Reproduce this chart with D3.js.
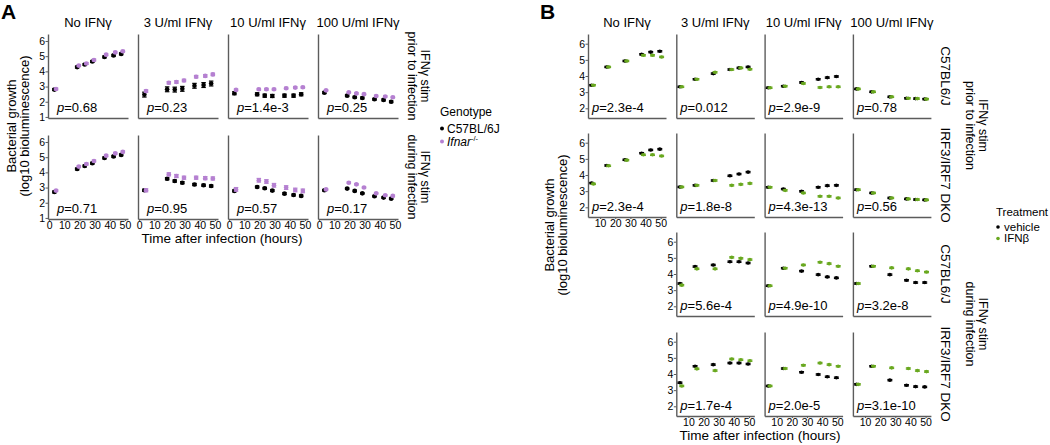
<!DOCTYPE html>
<html>
<head>
<meta charset="utf-8">
<script src="https://cdn.jsdelivr.net/npm/d3@7/dist/d3.min.js"></script>
<style>
  body { margin: 0; background: #fff; }
  svg text { font-family: "Liberation Sans", Arial, sans-serif; fill: #000; }
</style>
</head>
<body>
<svg id="chart" width="1050" height="445"></svg>
<script>
// ---------- data ----------
const conditions = ["No IFNγ", "3 U/ml IFNγ", "10 U/ml IFNγ", "100 U/ml IFNγ"];

// Panel A: genotype comparison, 7 timepoints
const timesA = [4, 19, 24, 29, 37, 43, 48];
const ticksAx = [0, 10, 20, 30, 40, 50];
const ticksAy = [1, 2, 3, 4, 5, 6];
const stimRows = [["IFNγ stim", "prior to infection"], ["IFNγ stim", "during infection"]];

// [condition][timepoint]
const aB6Prior = [
  [2.80, 4.28, 4.45, 4.65, 4.95, 5.05, 5.15],
  [2.47, 2.82, 2.80, 2.85, 3.05, 3.10, 3.20],
  [2.56, 2.49, 2.40, 2.38, 2.40, 2.40, 2.49],
  [2.60, 2.40, 2.30, 2.25, 2.16, 2.12, 2.00]
];
const aIfnarPrior = [
  [2.84, 4.38, 4.52, 4.75, 5.10, 5.25, 5.32],
  [2.70, 3.25, 3.30, 3.40, 3.65, 3.70, 3.80],
  [2.78, 2.82, 2.82, 2.82, 2.89, 2.93, 2.95],
  [2.75, 2.62, 2.55, 2.50, 2.38, 2.35, 2.30]
];
const aB6During = [
  [2.71, 4.22, 4.42, 4.60, 4.95, 5.05, 5.15],
  [2.82, 3.58, 3.43, 3.32, 3.20, 3.15, 3.10],
  [2.78, 3.04, 2.95, 2.80, 2.60, 2.51, 2.45],
  [2.82, 2.93, 2.78, 2.62, 2.43, 2.34, 2.27]
];
const aIfnarDuring = [
  [2.80, 4.38, 4.55, 4.75, 5.10, 5.25, 5.35],
  [2.82, 3.87, 3.76, 3.65, 3.65, 3.62, 3.60],
  [2.88, 3.48, 3.40, 3.15, 3.00, 2.84, 2.78],
  [2.88, 3.32, 3.21, 3.00, 2.62, 2.49, 2.45]
];
// error bar half-widths, one per condition
const aB6PriorSd = [0.06, 0.16, 0.10, 0.06];
const aIfnarPriorSd = [0.06, 0.08, 0.06, 0.05];
const aB6DuringSd = [0.06, 0.07, 0.06, 0.05];
const aIfnarDuringSd = [0.06, 0.10, 0.12, 0.05];
const pA = [["0.68", "0.23", "1.4e-3", "0.25"], ["0.71", "0.95", "0.57", "0.17"]];

// Panel B: treatment comparison, 6 timepoints
const timesB = [5, 15, 27, 38, 44, 50];
const ticksBx = [10, 20, 30, 40, 50];
const ticksBy = [2, 3, 4, 5, 6];
const strainRows = ["C57BL6/J", "IRF3/IRF7 DKO", "C57BL6/J", "IRF3/IRF7 DKO"];

// [row][condition][timepoint]; null = empty facet
const bVehicle = [
  [[3.43, 4.56, 4.93, 5.34, 5.48, 5.53], [3.33, 3.80, 4.15, 4.40, 4.50, 4.56],
   [3.27, 3.37, 3.60, 3.80, 3.90, 3.97], [3.20, 3.02, 2.71, 2.62, 2.60, 2.57]],
  [[3.50, 4.59, 4.94, 5.35, 5.55, 5.60], [3.26, 3.36, 3.66, 3.95, 4.06, 4.18],
   [3.24, 3.13, 2.99, 3.24, 3.34, 3.36], [3.09, 2.89, 2.58, 2.52, 2.48, 2.46]],
  [null, [3.41, 4.46, 4.56, 4.76, 4.76, 4.68],
   [3.27, 4.36, 4.18, 3.96, 3.82, 3.76], [3.41, 4.48, 3.96, 3.61, 3.47, 3.47]],
  [null, [3.46, 4.48, 4.58, 4.68, 4.68, 4.62],
   [3.26, 4.34, 4.11, 3.97, 3.83, 3.77], [3.36, 4.48, 3.62, 3.30, 3.22, 3.20]]
];
const bIfnb = [
  [[3.43, 4.56, 4.93, 5.28, 5.28, 5.18], [3.33, 3.80, 4.23, 4.40, 4.50, 4.42],
   [3.27, 3.37, 3.54, 3.29, 3.33, 3.33], [3.20, 3.02, 2.71, 2.62, 2.60, 2.57]],
  [[3.45, 4.57, 4.92, 5.25, 5.25, 5.18], [3.26, 3.36, 3.66, 3.36, 3.42, 3.48],
   [3.24, 3.05, 2.89, 2.68, 2.68, 2.58], [3.09, 2.89, 2.58, 2.52, 2.48, 2.46]],
  [null, [3.31, 4.32, 4.32, 5.03, 4.97, 4.89],
   [3.27, 4.36, 4.56, 4.73, 4.64, 4.48], [3.41, 4.48, 4.38, 4.32, 4.20, 4.12]],
  [null, [3.26, 4.32, 4.21, 4.93, 4.88, 4.82],
   [3.26, 4.34, 4.54, 4.68, 4.58, 4.48], [3.36, 4.48, 4.38, 4.34, 4.21, 4.15]]
];
const bSd = [0.04, 0.04];
const pB = [
  ["2.3e-4", "0.012", "2.9e-9", "0.78"],
  ["2.3e-4", "1.8e-8", "4.3e-13", "0.56"],
  [null, "5.6e-4", "4.9e-10", "3.2e-8"],
  [null, "1.7e-4", "2.0e-5", "3.1e-10"]
];

// ---------- drawing ----------
const AXIS = "#5c5c5c";
const PURPLE = "#b580d1";
const GREEN = "#69a81f";
const svg = d3.select("#chart");

function styleAxis(sel) {
  sel.select(".domain").attr("stroke", AXIS).attr("stroke-width", 1.4);
  sel.selectAll(".tick line").attr("stroke", AXIS).attr("stroke-width", 1);
  sel.selectAll(".tick text").attr("font-size", 10.5).attr("fill", "#111")
    .attr("font-family", "'Liberation Sans', Arial, sans-serif");
}

// one facet: axes + p-value + point series
function facet(o) {
  const g = svg.append("g").attr("transform", `translate(${o.x0},${o.y0})`);
  const x = d3.scaleLinear().domain(o.xDomain).range([0, o.w]);
  const y = d3.scaleLinear().domain(o.yDomain).range([o.h, 0]);

  g.append("g")
    .call(d3.axisLeft(y).tickValues(o.yLabels ? o.yTicks : []).tickFormat(d3.format("d"))
      .tickSize(2.5).tickPadding(0.5).tickSizeOuter(0))
    .call(styleAxis);
  g.append("g").attr("transform", `translate(0,${o.h})`)
    .call(d3.axisBottom(x).tickValues(o.xLabels ? o.xTicks : []).tickFormat(d3.format("d"))
      .tickSize(2).tickPadding(1).tickSizeOuter(0))
    .call(styleAxis);

  o.series.forEach((s) => {
    const pts = o.times.map((t, i) => ({ t: t + s.dodge, v: s.vals[i] }));
    const sg = g.append("g");
    sg.selectAll("line.err").data(pts).join("line")
      .attr("x1", (d) => x(d.t)).attr("x2", (d) => x(d.t))
      .attr("y1", (d) => y(d.v - s.sd)).attr("y2", (d) => y(d.v + s.sd))
      .attr("stroke", s.color).attr("stroke-width", 1);
    [-1, 1].forEach((k) => {
      sg.selectAll(null).data(pts).join("line")
        .attr("x1", (d) => x(d.t) - s.capW / 2).attr("x2", (d) => x(d.t) + s.capW / 2)
        .attr("y1", (d) => y(d.v + k * s.sd)).attr("y2", (d) => y(d.v + k * s.sd))
        .attr("stroke", s.color).attr("stroke-width", 1.2);
    });
    sg.selectAll("circle").data(pts).join("circle")
      .attr("cx", (d) => x(d.t)).attr("cy", (d) => y(d.v))
      .attr("r", s.r).attr("fill", s.color);
  });

  if (o.p) {
    const t = g.append("text").attr("x", o.pX).attr("y", o.h - 6.5).attr("font-size", 13);
    t.append("tspan").attr("font-style", "italic").text("p");
    t.append("tspan").text("=" + o.p);
  }
}

function label(x, y, lines, rot, size, lineGap) {
  const t = svg.append("text")
    .attr("transform", `translate(${x},${y}) rotate(${rot})`)
    .attr("text-anchor", "middle").attr("font-size", size);
  lines.forEach((l, i) => t.append("tspan").attr("x", 0).attr("y", i * lineGap).text(l));
  return t;
}

// ----- Panel A -----
const colA = [48, 138, 228, 318], rowA = [34, 135];
const wA = 80, hA = 84;
const aMeans = [[aB6Prior, aIfnarPrior], [aB6During, aIfnarDuring]];
const aSds = [[aB6PriorSd, aIfnarPriorSd], [aB6DuringSd, aIfnarDuringSd]];

svg.append("text").attr("x", 1).attr("y", 19).attr("font-size", 21).attr("font-weight", "bold").text("A");

rowA.forEach((y0, r) => {
  colA.forEach((x0, c) => {
    facet({
      x0, y0, w: wA, h: hA,
      xDomain: [-0.7, 52], yDomain: [0.93, 6.46],
      xTicks: ticksAx, yTicks: ticksAy,
      xLabels: r === 1, yLabels: c === 0,
      times: timesA, pX: 9, p: pA[r][c],
      series: [
        { vals: aMeans[r][0][c], sd: aSds[r][0][c], color: "#000", dodge: -0.5, r: 2.3, capW: 4.5 },
        { vals: aMeans[r][1][c], sd: aSds[r][1][c], color: PURPLE, dodge: 0.6, r: 2.3, capW: 4.5 }
      ]
    });
  });
  label(421, y0 + hA / 2, stimRows[r], 90, 12.5, 13);
});
colA.forEach((x0, c) => {
  svg.append("text").attr("x", x0 + wA / 2).attr("y", 27).attr("text-anchor", "middle")
    .attr("font-size", 13).text(conditions[c]);
});
svg.append("text").attr("x", 222).attr("y", 243).attr("text-anchor", "middle").attr("font-size", 13.5)
  .text("Time after infection (hours)");
label(16, 126, ["Bacterial growth", "(log10 bioluminescence)"], -90, 13, 12.5);

// legend A
svg.append("text").attr("x", 440).attr("y", 116).attr("font-size", 12).text("Genotype");
svg.append("circle").attr("cx", 442).attr("cy", 128.5).attr("r", 2).attr("fill", "#000");
svg.append("text").attr("x", 447).attr("y", 132.5).attr("font-size", 12).text("C57BL/6J");
svg.append("circle").attr("cx", 442).attr("cy", 141.5).attr("r", 2).attr("fill", PURPLE);
const ifn = svg.append("text").attr("x", 447).attr("y", 145.5).attr("font-size", 12);
ifn.append("tspan").attr("font-style", "italic").text("Ifnar");
ifn.append("tspan").attr("font-size", 7.5).attr("dy", -5).text("-/-");

// ----- Panel B -----
const colB = [588, 676.3, 764.6, 852.9], rowB = [34, 133, 232, 332];
const wB = 78, hB = 84;

svg.append("text").attr("x", 540).attr("y", 19).attr("font-size", 21).attr("font-weight", "bold").text("B");

rowB.forEach((y0, r) => {
  colB.forEach((x0, c) => {
    if (!bVehicle[r][c]) return;
    const firstCol = bVehicle[r][0] ? 0 : 1;
    const lastRowForCol = c === 0 ? 1 : 3;
    facet({
      x0, y0, w: wB, h: hB,
      xDomain: [2, 53.5], yDomain: [1.4, 6.6],
      xTicks: ticksBx, yTicks: ticksBy,
      xLabels: r === lastRowForCol, yLabels: c === firstCol,
      times: timesB, pX: 4, p: pB[r][c],
      series: [
        { vals: bVehicle[r][c], sd: bSd[0], color: "#000", dodge: -0.6, r: 1.8, capW: 5 },
        { vals: bIfnb[r][c], sd: bSd[1], color: GREEN, dodge: 0.6, r: 1.8, capW: 5 }
      ]
    });
  });
  label(941, y0 + hB / 2, [strainRows[r]], 90, 13.5, 0);
});
colB.forEach((x0, c) => {
  svg.append("text").attr("x", x0 + wB / 2).attr("y", 27).attr("text-anchor", "middle")
    .attr("font-size", 13).text(conditions[c]);
});
label(979, (rowB[0] + rowB[1] + hB) / 2, stimRows[0], 90, 12.5, 13);
label(979, (rowB[2] + rowB[3] + hB) / 2, stimRows[1], 90, 12.5, 13);
svg.append("text").attr("x", 760).attr("y", 440).attr("text-anchor", "middle").attr("font-size", 13.5)
  .text("Time after infection (hours)");
label(554, 225, ["Bacterial growth", "(log10 bioluminescence)"], -90, 13, 12.5);

// legend B
svg.append("text").attr("x", 996).attr("y", 216).attr("font-size", 11.5).text("Treatment");
svg.append("circle").attr("cx", 998).attr("cy", 227).attr("r", 1.8).attr("fill", "#000");
svg.append("text").attr("x", 1004).attr("y", 230.5).attr("font-size", 11.5).text("vehicle");
svg.append("circle").attr("cx", 998).attr("cy", 238.5).attr("r", 1.8).attr("fill", GREEN);
svg.append("text").attr("x", 1004).attr("y", 242).attr("font-size", 11.5).text("IFNβ");
</script>
</body>
</html>
